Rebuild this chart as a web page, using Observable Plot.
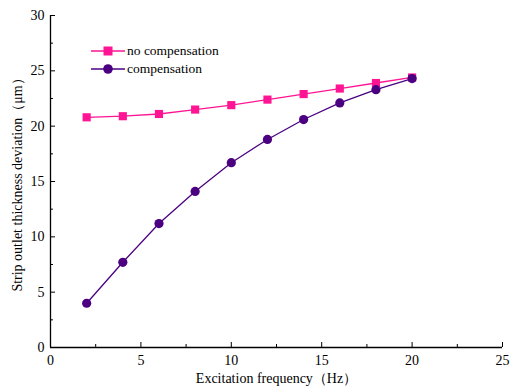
<!DOCTYPE html>
<html><head><meta charset="utf-8">
<script src="https://cdn.jsdelivr.net/npm/d3@7"></script>
<script src="https://cdn.jsdelivr.net/npm/@observablehq/plot@0.6"></script>
<style>
body{margin:0;background:#fff;}
#wrap{position:relative;width:516px;height:386px;font-family:"Liberation Serif","Times New Roman",serif;}
#wrap svg text{font-family:"Liberation Serif","Times New Roman",serif;}
.leg{position:absolute;left:91px;font-size:13.5px;display:flex;align-items:center;color:#000;}
.leg svg{margin-right:2px;}
</style></head>
<body><div id="wrap"></div>
<script>
const freq = [2,4,6,8,10,12,14,16,18,20];
const noComp = [20.8,20.9,21.1,21.5,21.9,22.4,22.9,23.4,23.9,24.4];
const comp = [4.0,7.7,11.2,14.1,16.7,18.8,20.6,22.1,23.3,24.3];
const xTicks = [0,5,10,15,20,25];
const xMinor = [2.5,7.5,12.5,17.5,22.5];
const yTicks = [0,5,10,15,20,25,30];
const yMinor = [2.5,7.5,12.5,17.5,22.5,27.5];
const pink = "#ff1493", purple = "#4b0082";

const d1 = freq.map((f,i)=>({x:f,y:noComp[i]}));
const d2 = freq.map((f,i)=>({x:f,y:comp[i]}));

const chart = Plot.plot({
  width:516, height:386,
  marginLeft:50, marginTop:15, marginRight:14, marginBottom:39,
  style:{fontFamily:'"Liberation Serif","Times New Roman",serif', fontSize:"13px", background:"transparent", color:"#000"},
  x:{domain:[0,25]},
  y:{domain:[0,30]},
  marks:[
    Plot.axisX({ticks:xTicks, tickSize:-5, tickPadding:13, fontSize:14, label:"Excitation frequency（Hz）", labelAnchor:"center", labelOffset:35, labelArrow:"none"}),
    Plot.axisX({ticks:xMinor, tickSize:-3, tickFormat:()=>"" , label:null}),
    Plot.axisY({ticks:yTicks, tickSize:-5, tickPadding:11, fontSize:14, label:"Strip outlet thickness deviation（μm）", labelAnchor:"center", labelOffset:38, labelArrow:"none"}),
    Plot.axisY({ticks:yMinor, tickSize:-3, tickFormat:()=>"", label:null}),
    Plot.ruleX([0],{strokeWidth:1.3}),
    Plot.ruleY([0],{strokeWidth:1.3}),
    Plot.line(d1,{x:"x",y:"y",stroke:pink,strokeWidth:1.3}),
    Plot.dot(d1,{x:"x",y:"y",symbol:"square",r:4.6,fill:pink,stroke:null}),
    Plot.line(d2,{x:"x",y:"y",stroke:purple,strokeWidth:1.3}),
    Plot.dot(d2,{x:"x",y:"y",symbol:"circle",r:4.6,fill:purple,stroke:null})
  ]
});
const wrap = document.getElementById("wrap");
wrap.appendChild(chart);

const legend = [
  {label:"no compensation", color:pink, sym:"square", top:42},
  {label:"compensation", color:purple, sym:"circle", top:60}
];
for (const l of legend) {
  const div = document.createElement("div");
  div.className = "leg";
  div.style.top = l.top + "px";
  const shape = l.sym === "square"
    ? `<rect x="12.5" y="4.5" width="9" height="9" fill="${l.color}"/>`
    : `<circle cx="17" cy="9" r="4.8" fill="${l.color}"/>`;
  div.innerHTML = `<svg width="34" height="18"><line x1="0" x2="34" y1="9" y2="9" stroke="${l.color}" stroke-width="1.3"/>${shape}</svg><span>${l.label}</span>`;
  wrap.appendChild(div);
}
</script></body></html>
